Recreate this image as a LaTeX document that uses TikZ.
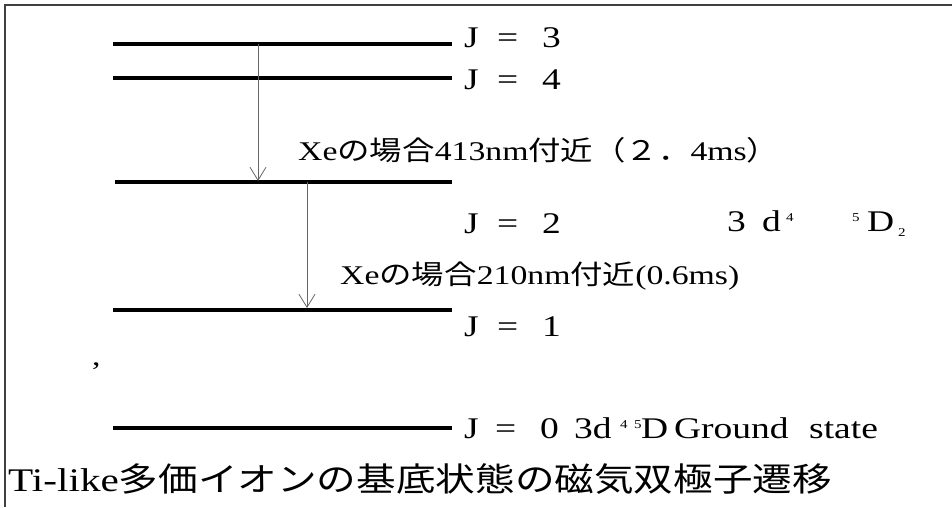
\documentclass[tikz,border=0pt]{standalone}
\usepackage{fontspec}
\setmainfont{Liberation Serif}[FakeStretch=1.25]
\newfontfamily\jp{Noto Sans CJK JP}[FakeStretch=1.2]
\usetikzlibrary{arrows.meta}
\newcommand\putat[2]{\rlap{\hspace*{#1pt}#2}}
\newcommand\supsm[1]{\raisebox{10pt}{\fontsize{12}{12}\selectfont #1}}
\newcommand\subsm[1]{\raisebox{-5pt}{\fontsize{12}{12}\selectfont #1}}
\tikzset{
  level/.style={line width=3.8pt, black},
  trans/.style={line width=0.8pt, gray!80!black, -{Straight Barb[length=13pt,width=16pt,line width=0.8pt]}},
  jlab/.style={anchor=west, inner sep=0pt, font=\fontsize{30}{30}\selectfont},
  txt/.style={anchor=west, inner sep=0pt, font=\fontsize{27}{27}\selectfont},
  frame/.style={line width=2.5pt, black!75},
}
\begin{document}
\begin{tikzpicture}[x=1pt,y=-1pt]
\useasboundingbox (0,0) rectangle (952,507);
% frame
\coordinate (fTL) at (5,5);
\coordinate (fTR) at (952,5);
\coordinate (fBL) at (5,507);
\draw[frame] (fTR) -- (fTL) -- (fBL);
% levels
\coordinate (l3a) at (113,44);  \coordinate (l3b) at (452,44);
\coordinate (l4a) at (113,78);  \coordinate (l4b) at (452,78);
\coordinate (l2a) at (115,182); \coordinate (l2b) at (452,182);
\coordinate (l1a) at (113,310); \coordinate (l1b) at (452,310);
\coordinate (l0a) at (113,428); \coordinate (l0b) at (452,428);
\draw[level] (l3a) -- (l3b);
\draw[level] (l4a) -- (l4b);
\draw[level] (l2a) -- (l2b);
\draw[level] (l1a) -- (l1b);
\draw[level] (l0a) -- (l0b);
% transitions
\coordinate (t1s) at (258,44);  \coordinate (t1e) at (258,181);
\coordinate (t2s) at (307,182); \coordinate (t2e) at (307,308);
\draw[trans] (t1s) -- (t1e);
\draw[trans] (t2s) -- (t2e);
% labels (offsets relative to x = 464)
\node[jlab] (j3) at (464,38) {\putat{0}{J}\putat{33}{=}\putat{78}{3}\hspace*{97pt}};
\node[jlab] (j4) at (464,80) {\putat{0}{J}\putat{33}{=}\putat{78}{4}\hspace*{97pt}};
\node[jlab] (j2) at (464,224) {\putat{0}{J}\putat{33}{=}\putat{78}{2}\hspace*{97pt}};
\node[jlab] (cfg2) at (727,224) {\putat{0}{3}\putat{35}{d}\putat{59}{\supsm{4}}\putat{125}{\supsm{5}}\putat{140}{D}\putat{171}{\subsm{2}}\hspace*{178pt}};
\node[jlab] (j1) at (464,327) {\putat{0}{J}\putat{33}{=}\putat{78}{1}\hspace*{97pt}};
\node[txt] (x413) at (298,150) {Xe{\jp の場合}413nm{\jp 付近（２．}4ms{\jp ）}};
\node[txt] (x210) at (340,276) {Xe{\jp の場合}210nm{\jp 付近}(0.6ms)};
\node[txt] (comma) at (92,366) {,};
\node[jlab] (j0) at (464,428) {\putat{0}{J}\putat{31}{=}\putat{76}{0}\putat{110}{3d}\putat{156}{\supsm{4}}\putat{170}{\supsm{5}}\putat{177}{D}\putat{210}{Ground}\putat{345}{state}\hspace*{430pt}};
\node[anchor=west, inner sep=0pt, font=\fontsize{33}{33}\selectfont] (title) at (8,479) {Ti-like{\jp 多価イオンの基底状態の磁気双極子遷移}};
\end{tikzpicture}
\end{document}
